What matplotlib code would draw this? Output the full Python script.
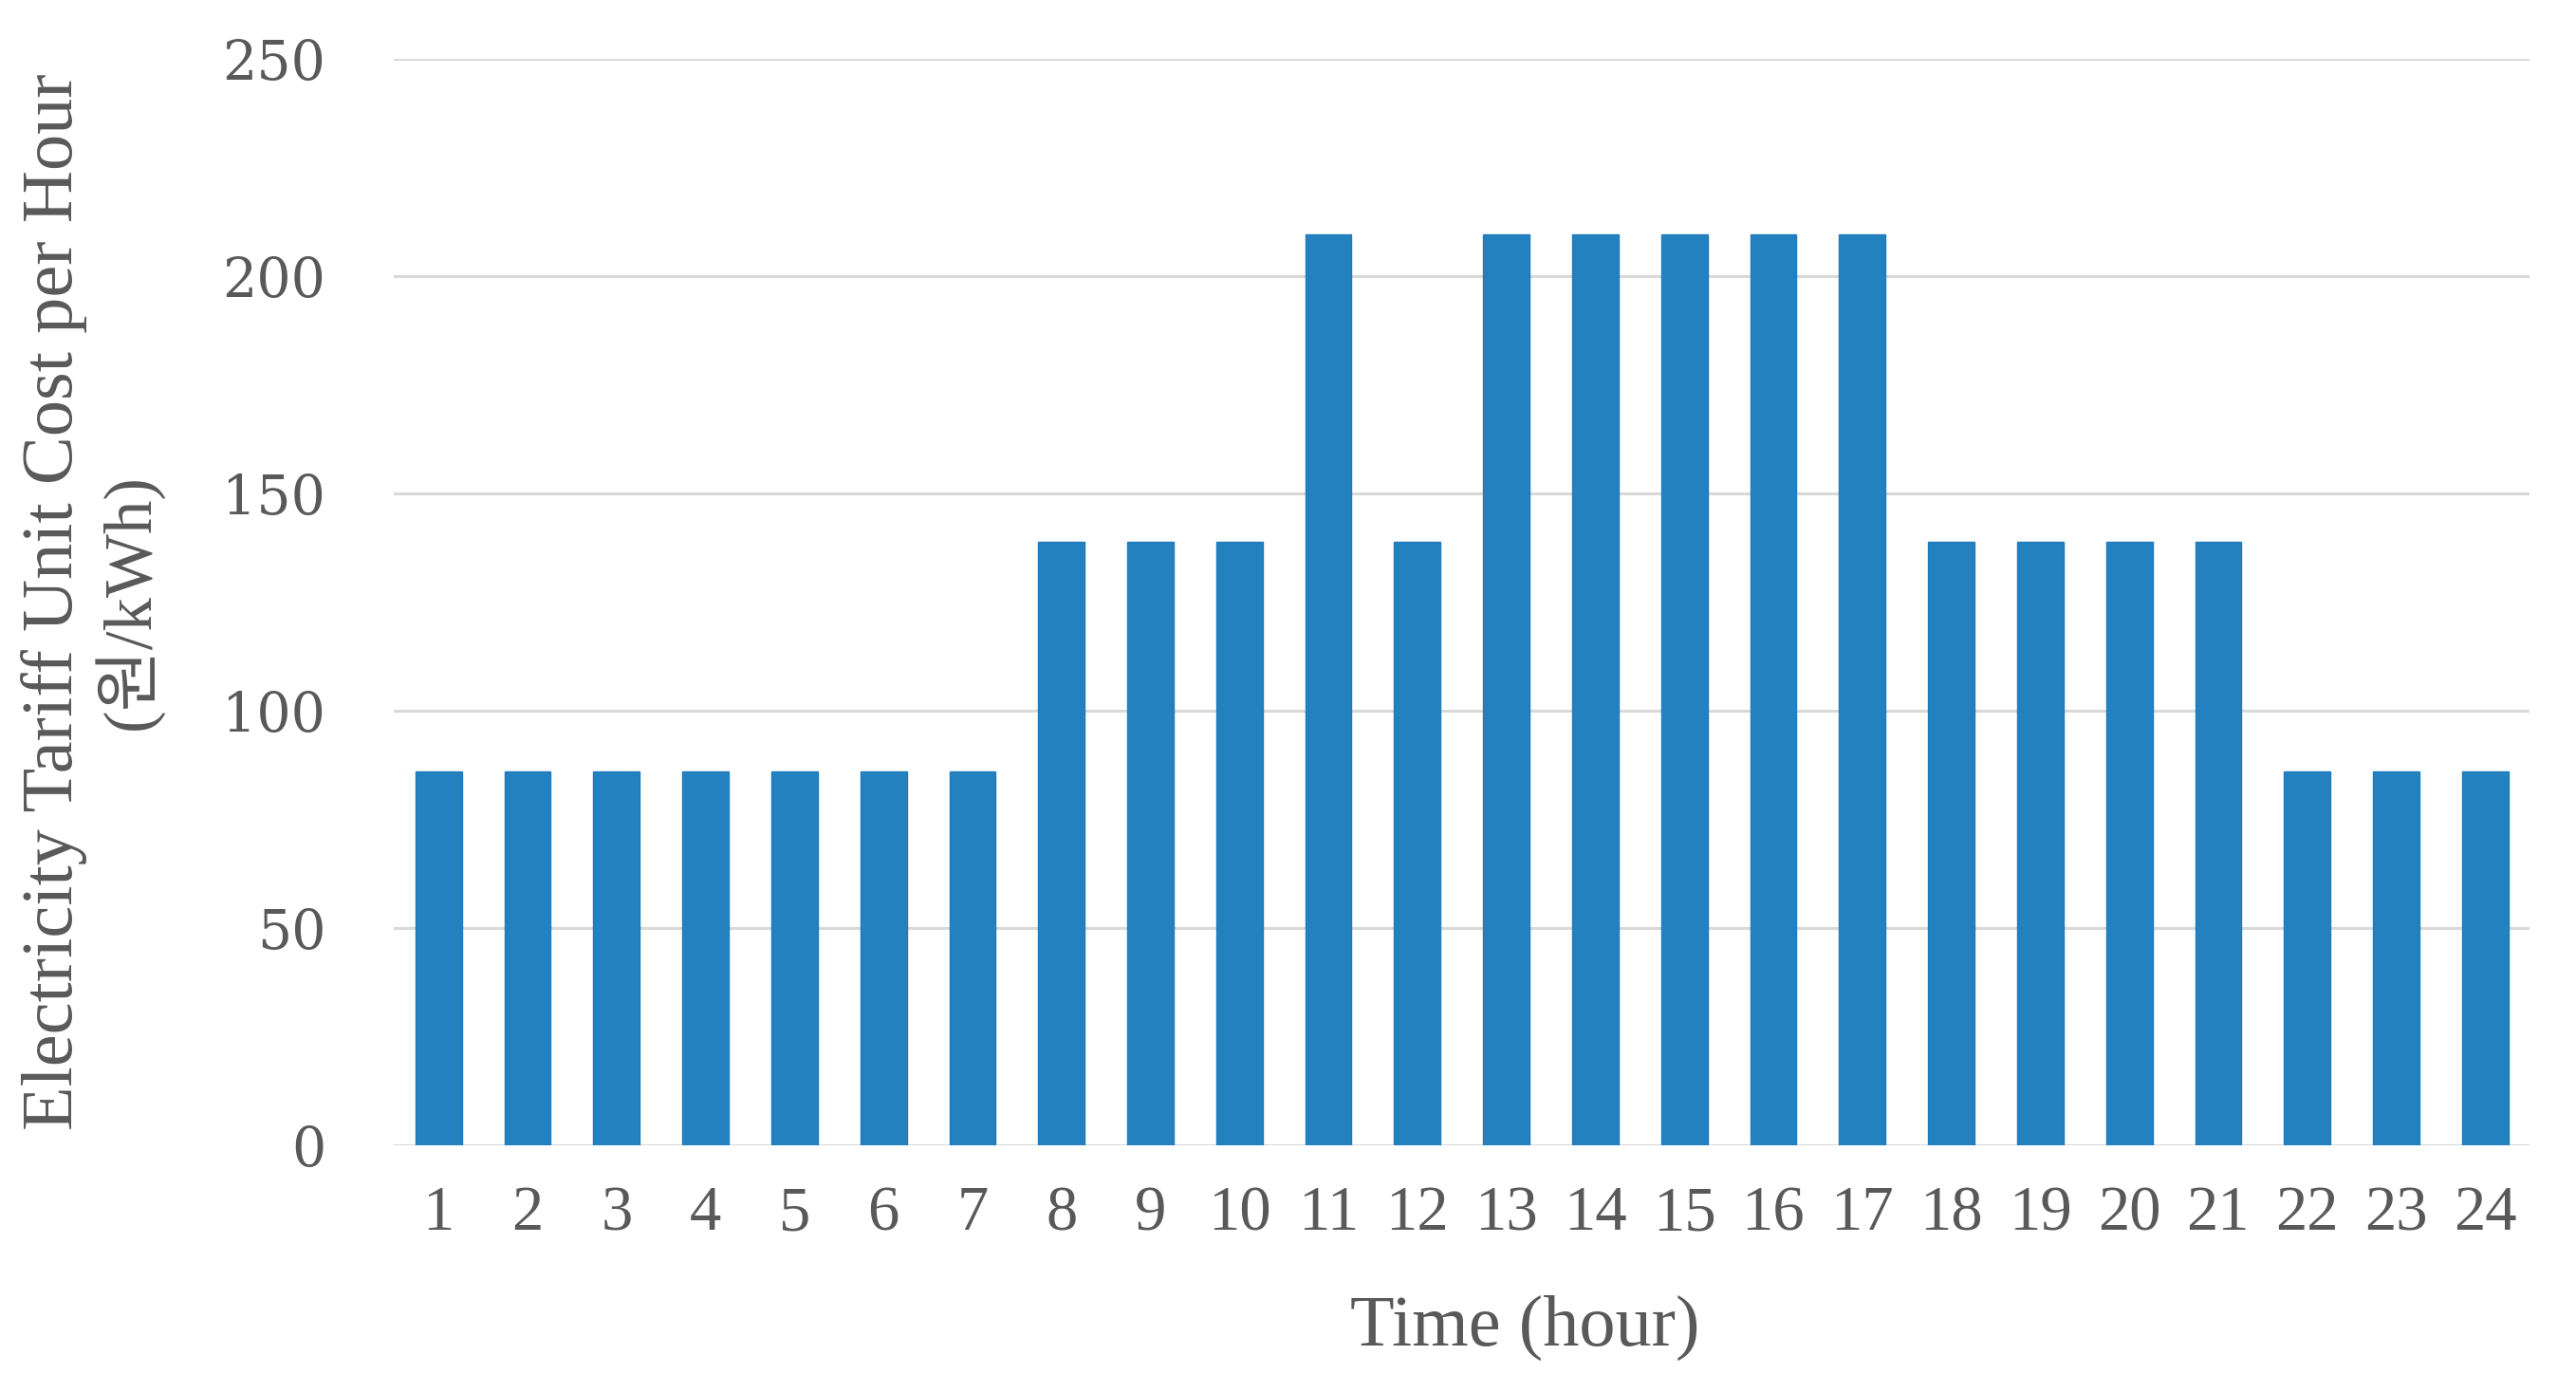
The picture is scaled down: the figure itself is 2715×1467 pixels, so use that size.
import matplotlib
matplotlib.use("Agg")
import matplotlib.pyplot as plt

# hourly tariff (won/kWh)
hours = [str(h) for h in range(1, 25)]
low = 86.1
mid = 138.9
peak = 209.5
tariff = [low, low, low, low, low, low, low,
          mid, mid, mid,
          peak,
          mid,
          peak, peak, peak, peak, peak,
          mid, mid, mid, mid,
          low, low, low]

yticks = [0, 50, 100, 150, 200, 250]

grey = '#595959'
bar_col = '#2481bf'

fig = plt.figure(figsize=(27.15, 14.67), dpi=100)
ax = fig.add_axes([0.153, 0.177, 0.829, 0.781])

x = list(range(len(hours)))
ax.bar(x, tariff, width=0.52, color=bar_col, edgecolor='#1f7bbd', linewidth=1.0, zorder=3)

ax.set_xlim(-0.5, len(hours) - 0.5)
ax.set_ylim(0, 250)
ax.set_yticks(yticks)
ax.set_xticks(x)
ax.set_xticklabels(hours, fontsize=48, family='Liberation Serif', color=grey)
ax.set_yticklabels([str(v) for v in yticks], fontsize=41, family='DejaVu Serif', color=grey)
ax.tick_params(axis='both', length=0)
ax.tick_params(axis='x', pad=30)
ax.tick_params(axis='y', pad=52)

ax.grid(axis='y', color='#d9d9d9', linewidth=2.2, zorder=0)
ax.set_axisbelow(True)
for s in ax.spines.values():
    s.set_visible(False)

fig.text(0.021, 0.568, 'Electricity Tariff Unit Cost per Hour', rotation=90,
         ha='center', va='center', fontsize=55, color=grey,
         family=['Liberation Serif', 'Noto Sans CJK KR'])
fig.text(0.050, 0.568, '(원/kWh)', rotation=90,
         ha='center', va='center', fontsize=51, color=grey,
         family=['Liberation Serif', 'Noto Sans CJK KR'])
fig.text(0.592, 0.046, 'Time (hour)', ha='center', va='center',
         fontsize=55, color=grey, family='Liberation Serif')

fig.savefig('out.png', dpi=100)
